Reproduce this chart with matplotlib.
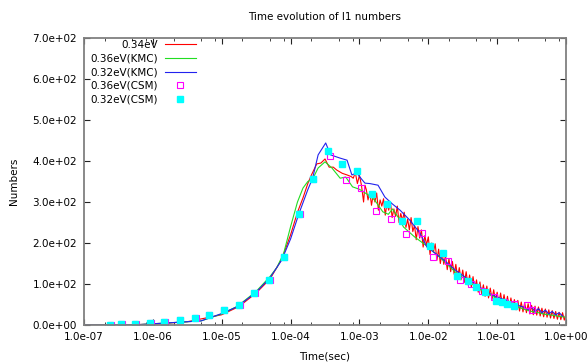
import numpy as np
import matplotlib
matplotlib.use("Agg")
import matplotlib.pyplot as plt
from matplotlib.ticker import LogLocator, FormatStrFormatter

# log10(time) / numbers
red_logt = [-7.0, -6.5, -6.0, -5.5, -5.0, -4.75, -4.5, -4.3, -4.13, -4.0, -3.9, -3.82,
            -3.75, -3.7, -3.62, -3.56, -3.5, -3.44, -3.38, -3.33, -3.25, -3.18, -3.12,
            -3.09, -3.06, -3.03, -3.0, -2.97, -2.94, -2.92,
            -2.900, -2.875, -2.850, -2.825, -2.800, -2.775, -2.750, -2.725, -2.700, -2.675,
            -2.650, -2.625, -2.600, -2.575, -2.550, -2.525, -2.500, -2.475, -2.450, -2.425,
            -2.400, -2.375, -2.350, -2.325, -2.300, -2.275, -2.250, -2.225, -2.200, -2.175,
            -2.150, -2.125, -2.100, -2.075, -2.050, -2.025, -2.000, -1.975, -1.950, -1.925,
            -1.900, -1.875, -1.850, -1.825, -1.800, -1.775, -1.750, -1.725, -1.700, -1.675,
            -1.650, -1.625, -1.600, -1.575, -1.550, -1.525, -1.500, -1.475, -1.450, -1.425,
            -1.400, -1.375, -1.350, -1.325, -1.300, -1.275, -1.250, -1.225, -1.200, -1.175,
            -1.150, -1.125, -1.100, -1.075, -1.050, -1.025, -1.000, -0.975, -0.950, -0.925,
            -0.900, -0.875, -0.850, -0.825, -0.800, -0.775, -0.750, -0.725, -0.700, -0.675,
            -0.650, -0.625, -0.600, -0.575, -0.550, -0.525, -0.500, -0.475, -0.450, -0.425,
            -0.400, -0.375, -0.350, -0.325, -0.300, -0.275, -0.250, -0.225, -0.200, -0.175,
            -0.150, -0.125, -0.100, -0.075, -0.050, -0.025, 0.000]
red_n = [0, 0, 2, 8, 25, 45, 78, 112, 160, 220, 275, 310,
         345, 365, 393, 395, 405, 385, 385, 378, 370, 366, 362,
         358, 372, 345, 365, 340, 300, 341,
         330, 305, 325, 292, 318, 300, 322, 280, 305, 290,
         308, 268, 296, 280, 300, 262, 283, 265, 290, 250,
         272, 255, 275, 238, 258, 232, 262, 228, 243, 208,
         240, 212, 232, 190, 218, 195, 215, 172, 200, 178,
         198, 158, 185, 150, 178, 148, 170, 135, 162, 130,
         155, 124, 148, 115, 140, 110, 134, 104, 130, 98,
         122, 92, 118, 86, 110, 80, 105, 76, 98, 70,
         95, 66, 90, 62, 86, 58, 80, 54, 78, 50,
         74, 47, 70, 43, 66, 40, 62, 37, 60, 34,
         56, 32, 54, 30, 52, 27, 48, 25, 46, 24,
         44, 22, 41, 20, 39, 19, 37, 17, 35, 16,
         33, 14, 31, 13, 30, 12, 28]

green_logt = [-7.0, -6.5, -6.2, -6.0, -5.7, -5.3, -5.0, -4.77, -4.5, -4.3, -4.2, -4.1,
              -4.0, -3.9, -3.82, -3.75, -3.68, -3.6, -3.5, -3.4, -3.28, -3.2, -3.1,
              -3.0, -2.87, -2.78, -2.66, -2.58, -2.52, -2.43, -2.36, -2.2, -2.0, -1.8,
              -1.6, -1.4, -1.2, -1.0, -0.8, -0.7, -0.6, -0.5, -0.4, -0.3, -0.2, -0.1, 0.0]
green_n = [0, 0, 1, 3, 6, 10, 27, 46, 82, 118, 140, 175,
           240, 300, 334, 350, 356, 383, 398, 383, 358, 361, 337,
           331, 317, 305, 276, 270, 283, 261, 239, 215, 190, 160,
           128, 104, 82, 64, 50, 44, 38, 33, 30, 26, 24, 21, 19]

blue_logt = [-7.0, -6.5, -6.2, -6.0, -5.7, -5.3, -5.0, -4.77, -4.5, -4.3, -4.13, -4.0,
             -3.88, -3.75, -3.68, -3.6, -3.49, -3.42, -3.28, -3.18, -3.11, -3.04, -2.97,
             -2.92, -2.85, -2.73, -2.63, -2.52, -2.41, -2.27, -2.12, -2.02, -1.9, -1.75,
             -1.6, -1.45, -1.3, -1.15, -1.0, -0.9, -0.8, -0.7, -0.62, -0.55, -0.5, -0.45,
             -0.4, -0.35, -0.3, -0.25, -0.2, -0.15, -0.1, -0.05]
blue_n = [0, 0, 1, 3, 6, 10, 28, 45, 80, 115, 158, 210,
          271, 330, 358, 415, 444, 415, 407, 402, 366, 371, 356,
          346, 345, 341, 312, 295, 280, 256, 224, 190, 175, 155,
          133, 115, 98, 80, 68, 62, 55, 48, 44, 38, 44, 33,
          40, 30, 36, 27, 33, 25, 30, 22]

csm36_logt = [-6.61, -6.45, -6.25, -6.03, -5.83, -5.60, -5.38, -5.18, -4.96, -4.74, -4.52,
              -4.30, -4.09, -3.87, -3.67, -3.43, -3.20, -2.98, -2.76, -2.54, -2.33, -2.09,
              -1.93, -1.72, -1.54, -1.38, -1.22, -1.05, -0.90, -0.75, -0.57, -0.50]
csm36_n = [0, 2, 2, 5, 7, 12, 17, 24, 37, 49, 78,
           110, 166, 271, 356, 412, 354, 334, 278, 259, 222, 224,
           166, 156, 110, 100, 83, 68, 57, 51, 49, 36]

csm32_logt = [-6.62, -6.46, -6.26, -6.04, -5.84, -5.61, -5.39, -5.19, -4.97, -4.75, -4.53,
              -4.31, -4.10, -3.88, -3.68, -3.46, -3.26, -3.04, -2.82, -2.60, -2.38, -2.17,
              -1.98, -1.78, -1.59, -1.43, -1.30, -1.17, -1.02, -0.93, -0.85, -0.76]
csm32_n = [0, 2, 2, 5, 7, 12, 17, 24, 37, 49, 78,
           110, 166, 271, 356, 424, 393, 376, 320, 295, 254, 254,
           193, 176, 120, 107, 93, 80, 59, 56, 51, 46]

fig = plt.figure(figsize=(5.88, 3.62), dpi=100)
ax = fig.add_axes([0.1429, 0.1022, 0.8197, 0.7928])

ax.plot(10 ** np.array(red_logt), red_n, color='#ff0000', lw=0.8, label='0.34eV')
ax.plot(10 ** np.array(green_logt), green_n, color='#22dd22', lw=0.8, label='0.36eV(KMC)')
ax.plot(10 ** np.array(blue_logt), blue_n, color='#2222ee', lw=0.8, label='0.32eV(KMC)')
ax.plot(10 ** np.array(csm36_logt), csm36_n, ls='none', marker='s', ms=4.2, mfc='none',
        mec='#ff00ff', mew=0.8, label='0.36eV(CSM)')
ax.plot(10 ** np.array(csm32_logt), csm32_n, ls='none', marker='s', ms=4.2, mfc='#00ffff',
        mec='#00ffff', label='0.32eV(CSM)')

ax.set_xscale('log')
ax.set_xlim(1e-7, 1e0)
ax.set_ylim(0, 700)
ax.set_yticks(np.arange(0, 701, 100))
ax.xaxis.set_major_locator(LogLocator(base=10, numticks=10))
ax.xaxis.set_minor_locator(LogLocator(base=10, subs=[2, 5, 8], numticks=10))
ax.xaxis.set_major_formatter(FormatStrFormatter('%.1e'))
ax.yaxis.set_major_formatter(FormatStrFormatter('%.1e'))

for s in ax.spines.values():
    s.set_color('#808080')
    s.set_linewidth(1.3)
ax.tick_params(which='major', direction='in', length=4, width=0.8, top=True, right=True,
               labelsize=7.5, color='#222222', pad=5)
ax.tick_params(which='minor', direction='in', length=2, width=0.6, top=True, right=True,
               color='#222222')

ax.set_title('Time evolution of I1 numbers', fontsize=7.5, pad=13)
ax.set_xlabel('Time(sec)', fontsize=7.5, labelpad=7)
ax.set_ylabel('Numbers', fontsize=7.5, labelpad=10)

leg = ax.legend(loc='upper right', bbox_to_anchor=(0.232, 0.993), markerfirst=False,
                frameon=False, fontsize=7.5, handlelength=3.0, handletextpad=0.6,
                labelspacing=0.35, borderaxespad=0, borderpad=0, numpoints=1)

fig.savefig('out.png', dpi=100)
